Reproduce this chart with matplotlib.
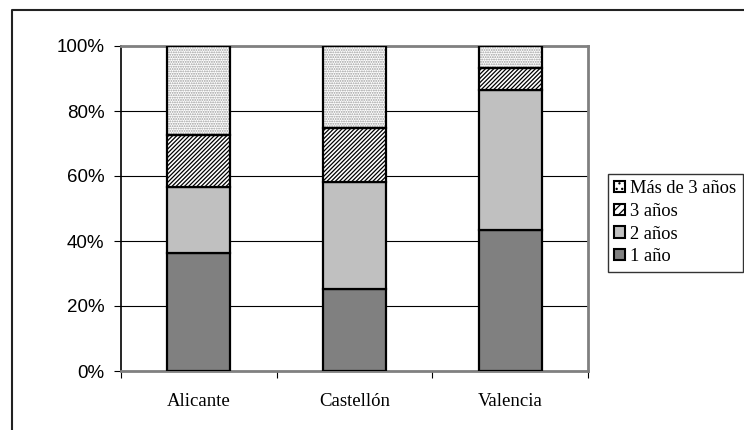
import numpy as np
import matplotlib
matplotlib.use("Agg")
import matplotlib.pyplot as plt
from matplotlib.patches import Patch
from matplotlib.lines import Line2D
from matplotlib.ticker import FuncFormatter

provincias = ["Alicante", "Castellón", "Valencia"]
series = ["1 año", "2 años", "3 años", "Más de 3 años"]

# porcentaje de cada tramo de antigüedad por provincia
un_ano = [36.4, 25.1, 43.3]
dos_anos = [20.3, 33.1, 43.2]
tres_anos = [15.9, 16.7, 6.6]
mas_tres = [27.4, 25.1, 6.9]

valores = [un_ano, dos_anos, tres_anos, mas_tres]
colores = ["#808080", "#c0c0c0", "white", "white"]
tramas = [None, None, "////////", "......."]
color_trama = [None, None, "black", "#9a9a9a"]

plt.rcParams["hatch.linewidth"] = 0.9

W, H = 744, 430
fig = plt.figure(figsize=(W / 100, H / 100), dpi=100)
ax = fig.add_axes([121 / W, (H - 371) / H, (588 - 121) / W, (371 - 46) / H])

x = np.arange(len(provincias))
ancho = 0.405
base = np.zeros(len(provincias))
for vals, fc, tr, tc in zip(valores, colores, tramas, color_trama):
    vals = np.array(vals)
    if tr:
        ax.bar(x, vals, ancho, bottom=base, color=fc, hatch=tr,
               edgecolor=tc, linewidth=0, zorder=3)
        ax.bar(x, vals, ancho, bottom=base, fill=False,
               edgecolor="black", linewidth=1.6, zorder=4)
    else:
        ax.bar(x, vals, ancho, bottom=base, color=fc,
               edgecolor="black", linewidth=1.6, zorder=3)
    base += vals

ax.set_xlim(-0.5, 2.5)
ax.set_ylim(0, 100)
ax.set_yticks(np.arange(0, 101, 20))
ax.yaxis.set_major_formatter(FuncFormatter(lambda v, p: f"{v:.0f}%"))
ax.yaxis.grid(True, color="black", linewidth=0.8, zorder=0)
ax.set_axisbelow(True)

ax.set_xticks([-0.5, 0.5, 1.5, 2.5])
ax.set_xticklabels([])
ax.set_xticks(x, minor=True)
ax.set_xticklabels(provincias, minor=True, fontfamily="Liberation Serif",
                   fontsize=13.5)
ax.tick_params(axis="x", which="minor", length=0, pad=16)
ax.tick_params(axis="x", which="major", length=5, width=0.8, direction="out")
ax.tick_params(axis="y", length=5, width=0.8, pad=7, labelsize=13.5)
for t in ax.get_yticklabels():
    t.set_fontfamily("Liberation Sans")

for lado in ["top", "right", "bottom"]:
    ax.spines[lado].set_color("#808080")
    ax.spines[lado].set_linewidth(2)
ax.spines["left"].set_color("black")
ax.spines["left"].set_linewidth(1.2)

# leyenda, de arriba abajo en orden inverso al apilado
manejadores = []
for nombre, fc, tr in zip(series, colores, tramas):
    trama_leg = "////" if tr and "/" in tr else ("..." if tr else None)
    manejadores.append(Patch(facecolor=fc, edgecolor="black", hatch=trama_leg,
                             linewidth=1.5, label=nombre))
leg = fig.legend(handles=manejadores[::-1], loc="upper left",
                 bbox_to_anchor=(608 / W, 1 - 174 / H),
                 prop={"family": "Liberation Serif", "size": 13.3},
                 handlelength=0.55, handleheight=0.55, handletextpad=0.3,
                 labelspacing=0.3, borderpad=0.35, borderaxespad=0,
                 frameon=True, fancybox=False)
leg.get_frame().set_edgecolor("black")
leg.get_frame().set_linewidth(1.0)

# marco exterior del gráfico
fig.add_artist(Line2D([12 / W, 12 / W, 1.0], [0.0, 1 - 10 / H, 1 - 10 / H],
                      transform=fig.transFigure, color="#222222", linewidth=1.5))

fig.savefig("out.png", dpi=100)
